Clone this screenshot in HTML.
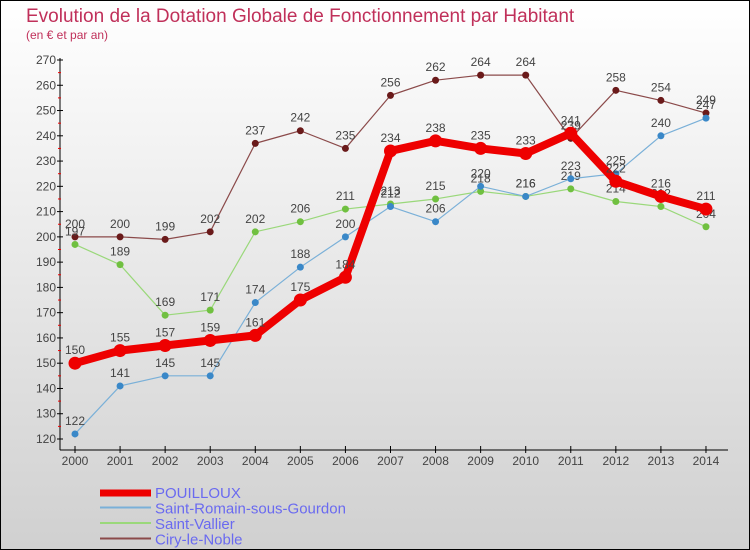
<!DOCTYPE html>
<html><head><meta charset="utf-8"><style>
body{margin:0}
svg{display:block;font-family:"Liberation Sans",sans-serif}
</style></head><body>
<svg id="c" width="750" height="550" xmlns="http://www.w3.org/2000/svg">
<defs><linearGradient id="bg" x1="0" y1="0" x2="0" y2="1"><stop offset="0" stop-color="#ffffff"/><stop offset="1" stop-color="#d0d0d0"/></linearGradient></defs>
<rect x="0.5" y="0.5" width="749" height="549" fill="url(#bg)" stroke="#000"/>
<text x="26" y="22" font-size="19" fill="#c0305a">Evolution de la Dotation Globale de Fonctionnement par Habitant</text>
<text x="26" y="39" font-size="12" fill="#c0305a">(en € et par an)</text>
<g id="axes"></g><g id="series"></g><g id="legend"></g>
</svg>
<script>
const years=[2000,2001,2002,2003,2004,2005,2006,2007,2008,2009,2010,2011,2012,2013,2014];
const yTicks=[120,130,140,150,160,170,180,190,200,210,220,230,240,250,260,270];
const pouilloux=[150,155,157,159,161,175,184,234,238,235,233,241,222,216,211];
const saintRomain=[122,141,145,145,174,188,200,212,206,220,216,223,225,240,247];
const saintVallier=[197,189,169,171,202,206,211,213,215,218,216,219,214,212,204];
const ciry=[200,200,199,202,237,242,235,256,262,264,264,239,258,254,249];
const seriesNames=["POUILLOUX","Saint-Romain-sous-Gourdon","Saint-Vallier","Ciry-le-Noble"];
const NS="http://www.w3.org/2000/svg";
const X=i=>75+i*45.07;
const Y=v=>439-(v-120)*(379/150);
function mk(t,a,p){const e=document.createElementNS(NS,t);for(const k in a)e.setAttribute(k,a[k]);p.appendChild(e);return e;}
const ax=document.getElementById('axes');
let l=mk('line',{x1:60,y1:58,x2:60,y2:450,stroke:'#000'},ax);


l=mk('line',{x1:60,y1:450,x2:728,y2:450,stroke:'#000'},ax);


yTicks.forEach((v,i)=>{
 mk('line',{x1:57,x2:63,y1:Y(v),y2:Y(v),stroke:'#000'},ax);
 if(i<yTicks.length-1)mk('line',{x1:58,x2:61,y1:Y(v+5),y2:Y(v+5),stroke:'#e00'},ax);
 const t=mk('text',{x:56,y:Y(v)+4,'font-size':12,fill:'#444','text-anchor':'end'},ax);t.textContent=v;
 
 
});
years.forEach((yr,i)=>{
 mk('line',{x1:X(i),x2:X(i),y1:446,y2:453,stroke:'#000'},ax);
 const t=mk('text',{x:X(i),y:465,'font-size':12,fill:'#444','text-anchor':'middle'},ax);t.textContent=yr;
 
 
});
const sg=document.getElementById('series');
const defs=[
 {d:ciry,c:'#8b4a4a',dot:'#6a1a1a',w:1.2,r:3.5,name:'ciry-le-noble'},
 {d:saintVallier,c:'#9ad87a',dot:'#70c040',w:1.2,r:3.5,name:'saint-vallier'},
 {d:saintRomain,c:'#7ab0d8',dot:'#3a88c8',w:1.2,r:3.5,name:'saint-romain'},
 {d:pouilloux,c:'#ee0000',dot:'#ee0000',w:8,r:6.5,name:'pouilloux'}];
defs.forEach(s=>{
 const g=mk('g',{},sg);
 
 
 mk('polyline',{points:s.d.map((v,i)=>X(i)+','+Y(v)).join(' '),fill:'none',stroke:s.c,'stroke-width':s.w,'stroke-linejoin':'round'},g);
 s.d.forEach((v,i)=>{
  const c=mk('circle',{cx:X(i),cy:Y(v),r:s.r,fill:s.dot},g);
  
  
  const t=mk('text',{x:X(i),y:Y(v)-9,'font-size':12,fill:'#444','text-anchor':'middle'},g);t.textContent=v;
  
  
 });
});
const lg=document.getElementById('legend');
const lc=['#ee0000','#7ab0d8','#9ad87a','#8b4a4a'],lw=[7,2,2,2];
seriesNames.forEach((n,i)=>{
 const y=492+i*15.5;
 const g=mk('g',{},lg);
 
 
 mk('line',{x1:100,x2:151,y1:y+(i==0?1:0),y2:y+(i==0?1:0),stroke:lc[i],'stroke-width':lw[i]},g);
 const t=mk('text',{x:155,y:y+6,'font-size':15,fill:'#6a6af0'},g);t.textContent=n;
});
</script>
</body></html>
